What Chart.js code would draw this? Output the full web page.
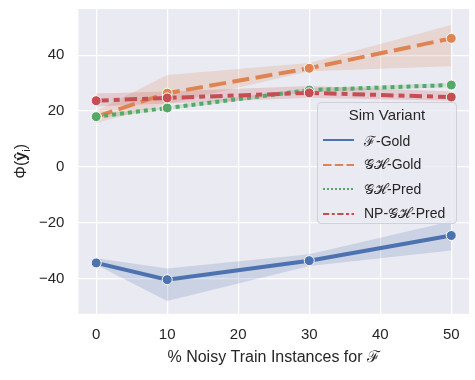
<!DOCTYPE html>
<html>
<head>
<meta charset="utf-8">
<script src="https://cdn.jsdelivr.net/npm/chart.js@4.4.1/dist/chart.umd.min.js"></script>
<style>
  body { margin: 0; background: #fff; font-family: "Liberation Sans", Arial, sans-serif; }
  #wrap { position: relative; width: 475px; height: 380px; }
  #legend {
    position: absolute; left: 317px; top: 102px; width: 140px; height: 122px;
    background: rgba(234,234,242,0.8); border: 1px solid #d0d0d8; border-radius: 4px;
    box-sizing: border-box; font-size: 14px; color: #262626;
  }
  #legend .ttl { text-align: center; font-size: 15px; margin-top: 3px; height: 22px; }
  #legend .row { display: flex; align-items: center; height: 24.5px; }
  #legend svg { margin-left: 5px; margin-right: 10px; }
</style>
</head>
<body>
<div id="wrap">
  <canvas id="c" width="475" height="380"></canvas>
  <div id="legend"></div>
</div>
<script>
// data
const noise = [0, 10, 30, 50];
const seriesNames = ['ℱ-Gold', '𝒢ℋ-Gold', '𝒢ℋ-Pred', 'NP-𝒢ℋ-Pred'];
const fGold = [-34.3, -40.3, -33.5, -24.5];
const fGoldLo = [-35.0, -47.9, -35.4, -29.9];
const fGoldHi = [-32.6, -36.3, -31.2, -19.4];
const ghGold = [18.0, 26.4, 35.3, 46.0];
const ghGoldLo = [15.7, 22.5, 34.2, 36.0];
const ghGoldHi = [20.0, 32.9, 37.2, 50.8];
const ghPred = [18.0, 21.1, 27.5, 29.3];
const ghPredLo = [17.3, 20.5, 26.8, 28.6];
const ghPredHi = [18.7, 21.7, 28.2, 30.0];
const npPred = [23.7, 24.7, 26.5, 25.0];
const npPredLo = [21.6, 22.7, 24.8, 23.7];
const npPredHi = [26.3, 27.0, 29.0, 27.0];
const xTicks = [0, 10, 20, 30, 40, 50];
const yTicks = [-40, -20, 0, 20, 40];
const yTickLabels = ['−40', '−20', '0', '20', '40'];

const colors = ['#4C72B0', '#DD8452', '#55A868', '#C44E52'];
const bands = ['rgba(76,114,176,0.2)', 'rgba(221,132,82,0.2)', 'rgba(85,168,104,0.2)', 'rgba(196,78,82,0.2)'];
const dashes = [[], [17, 6.5], [4, 4], [12.5, 5, 6, 5]];
const mids = [fGold, ghGold, ghPred, npPred];
const los = [fGoldLo, ghGoldLo, ghPredLo, npPredLo];
const his = [fGoldHi, ghGoldHi, ghPredHi, npPredHi];

const pts = arr => noise.map((x, i) => ({ x: x, y: arr[i] }));

let datasets = [];
for (let s = 0; s < 4; s++) {
  datasets.push({ data: pts(los[s]), borderWidth: 0, pointRadius: 0, fill: false, order: 20 - s });
  datasets.push({ data: pts(his[s]), borderWidth: 0, pointRadius: 0, backgroundColor: bands[s], fill: '-1', order: 20 - s });
  datasets.push({
    label: seriesNames[s], data: pts(mids[s]), borderColor: colors[s], borderWidth: 4,
    borderDash: dashes[s], borderCapStyle: 'butt', pointRadius: 5, pointBackgroundColor: colors[s],
    pointBorderColor: '#fff', pointBorderWidth: 1, fill: false, order: 3 - s
  });
}

const bgPlugin = {
  id: 'bg',
  beforeDraw(chart) {
    const a = chart.chartArea, ctx = chart.ctx;
    ctx.save();
    ctx.fillStyle = '#EAEAF2';
    ctx.fillRect(a.left, a.top, a.right - a.left, a.bottom - a.top);
    ctx.restore();
  }
};

// y-axis title with bold hat y and subscript i
const yTitlePlugin = {
  id: 'ytitle',
  afterDraw(chart) {
    const a = chart.chartArea, ctx = chart.ctx;
    ctx.save();
    ctx.translate(22, (a.top + a.bottom) / 2);
    ctx.rotate(-Math.PI / 2);
    ctx.fillStyle = '#262626';
    ctx.textBaseline = 'middle';
    const f1 = '16px "Liberation Sans", Arial, sans-serif';
    const f2 = 'bold 16px "Liberation Sans", Arial, sans-serif';
    const f3 = '11px "Liberation Sans", Arial, sans-serif';
    const parts = [['Φ(', f1, 0], ['ŷ', f2, 0], ['i', f3, 5], [')', f1, 0]];
    let w = 0;
    parts.forEach(p => { ctx.font = p[1]; w += ctx.measureText(p[0]).width; });
    let x = -w / 2;
    parts.forEach(p => {
      ctx.font = p[1];
      ctx.fillText(p[0], x, p[2]);
      x += ctx.measureText(p[0]).width;
    });
    ctx.restore();
  }
};

new Chart(document.getElementById('c'), {
  type: 'line',
  data: { datasets: datasets },
  plugins: [bgPlugin, yTitlePlugin],
  options: {
    responsive: false,
    animation: false,
    layout: { padding: { left: 25, top: 9, right: 6, bottom: 13 } },
    plugins: { legend: { display: false }, tooltip: { enabled: false } },
    scales: {
      x: {
        type: 'linear', min: -2.5, max: 52.5,
        afterBuildTicks: sc => { sc.ticks = xTicks.map(v => ({ value: v })); },
        afterFit: sc => { sc.paddingLeft = 0; sc.paddingRight = 0; },
        grid: { color: '#ffffff', lineWidth: 1.2, drawTicks: false },
        border: { display: false },
        ticks: { color: '#262626', padding: 12, font: { size: 15, family: '"Liberation Sans", Arial, sans-serif' } },
        title: { display: true, text: '% Noisy Train Instances for ℱ', color: '#262626', padding: { top: -8, bottom: 0 },
          font: { size: 16, family: '"Liberation Sans", Arial, sans-serif' } }
      },
      y: {
        min: -52.5, max: 56.5,
        afterBuildTicks: sc => { sc.ticks = yTicks.map(v => ({ value: v })); },
        afterFit: sc => { sc.paddingTop = 0; sc.paddingBottom = 0; },
        grid: { color: '#ffffff', lineWidth: 1.2, drawTicks: false },
        border: { display: false },
        ticks: {
          color: '#262626', padding: 14, font: { size: 15, family: '"Liberation Sans", Arial, sans-serif' },
          callback: v => yTickLabels[yTicks.indexOf(v)]
        }
      }
    }
  }
});

// legend
const leg = document.getElementById('legend');
let html = '<div class="ttl">Sim Variant</div>';
for (let s = 0; s < 4; s++) {
  const da = dashes[s].length ? dashes[s].map(d => d * 0.5).join(',') : 'none';
  html += '<div class="row"><svg width="31" height="6"><line x1="0" y1="3" x2="31" y2="3" stroke="' + colors[s] +
    '" stroke-width="2" stroke-dasharray="' + da + '"/></svg><span>' + seriesNames[s] + '</span></div>';
}
leg.innerHTML = html;
</script>
</body>
</html>
